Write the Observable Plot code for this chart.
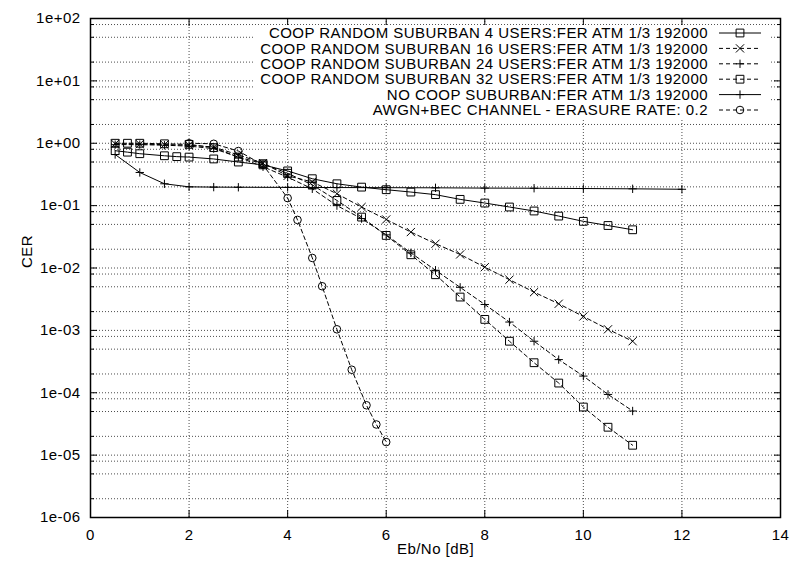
<!DOCTYPE html>
<html>
<head>
<meta charset="utf-8">
<script src="https://cdn.jsdelivr.net/npm/d3@7"></script>
<script src="https://cdn.jsdelivr.net/npm/@observablehq/plot@0.6"></script>
<style>
  html, body { margin: 0; padding: 0; background: #fff; }
  #chart { width: 790px; height: 564px; }
  svg text { font-family: "Liberation Sans", Arial, sans-serif; letter-spacing: 0.45px; }
</style>
</head>
<body>
<div id="chart"></div>
<script>
// Series labels, in key order
const seriesNames = [
  "COOP RANDOM SUBURBAN 4 USERS:FER ATM 1/3 192000",
  "COOP RANDOM SUBURBAN 16 USERS:FER ATM 1/3 192000",
  "COOP RANDOM SUBURBAN 24 USERS:FER ATM 1/3 192000",
  "COOP RANDOM SUBURBAN 32 USERS:FER ATM 1/3 192000",
  "NO COOP SUBURBAN:FER ATM 1/3 192000",
  "AWGN+BEC CHANNEL - ERASURE RATE: 0.2"
];

// Eb/No [dB] and CER for each curve
const ebno4  = [0.5, 0.75, 1, 1.5, 1.75, 2, 2.5, 3, 3.5, 4, 4.5, 5, 5.5, 6, 6.5, 7, 7.5, 8, 8.5, 9, 9.5, 10, 10.5, 11];
const cer4   = [0.76, 0.72, 0.68, 0.63, 0.61, 0.6, 0.56, 0.5, 0.45, 0.36, 0.27, 0.224, 0.198, 0.18, 0.165, 0.15, 0.126, 0.11, 0.095, 0.082, 0.068, 0.056, 0.048, 0.041];

const ebno16 = [0.5, 1, 1.5, 2, 2.5, 3, 3.5, 4, 4.5, 5, 5.5, 6, 6.5, 7, 7.5, 8, 8.5, 9, 9.5, 10, 10.5, 11];
const cer16  = [0.98, 0.97, 0.95, 0.93, 0.87, 0.65, 0.48, 0.3, 0.24, 0.155, 0.095, 0.06, 0.0377, 0.0245, 0.0165, 0.0103, 0.0065, 0.0041, 0.00267, 0.00167, 0.00104, 0.00067];

const ebno24 = [0.5, 1, 1.5, 2, 2.5, 3, 3.5, 4, 4.5, 5, 5.5, 6, 6.5, 7, 7.5, 8, 8.5, 9, 9.5, 10, 10.5, 11];
const cer24  = [0.95, 0.95, 0.93, 0.9, 0.82, 0.6, 0.42, 0.286, 0.186, 0.1, 0.062, 0.034, 0.0175, 0.0092, 0.0049, 0.0026, 0.00136, 0.00067, 0.00034, 0.000185, 0.000094, 0.000051];

const ebno32 = [0.5, 0.75, 1, 1.5, 2, 2.5, 3, 3.5, 4, 4.5, 5, 5.5, 6, 6.5, 7, 7.5, 8, 8.5, 9, 9.5, 10, 10.5, 11];
const cer32  = [1.0, 1.0, 1.0, 0.98, 0.96, 0.85, 0.6, 0.47, 0.33, 0.215, 0.121, 0.0655, 0.0333, 0.0163, 0.0078, 0.00342, 0.0015, 0.00067, 0.000303, 0.000143, 0.000059, 0.000028, 0.0000144];

const ebnoNo = [0.5, 1, 1.5, 2, 2.5, 3, 4, 5, 6, 7, 8, 9, 10, 11, 12];
const cerNo  = [0.66, 0.34, 0.224, 0.2, 0.198, 0.197, 0.196, 0.195, 0.194, 0.193, 0.191, 0.19, 0.188, 0.186, 0.183];

const ebnoAwgn = [2, 2.5, 3, 3.5, 4, 4.2, 4.5, 4.7, 5, 5.3, 5.6, 5.8, 6];
const cerAwgn  = [1.0, 0.98, 0.75, 0.45, 0.132, 0.059, 0.0145, 0.0051, 0.00104, 0.000234, 0.000063, 0.000031, 0.0000162];

// Axis ticks
const xTickValues = [0, 2, 4, 6, 8, 10, 12, 14];
const yDecades = [1e-6, 1e-5, 1e-4, 1e-3, 1e-2, 1e-1, 1e0, 1e1, 1e2];
const yGridMultiples = [1, 2, 5, 8];

// Line style per curve: dash pattern and point symbol
const styles = [
  {dash: null,  symbol: "square", r: 4.4},
  {dash: "4,3", symbol: "times",  r: 3.8},
  {dash: "4,3", symbol: "plus",   r: 2.8},
  {dash: "4,3", symbol: "square", r: 4.4},
  {dash: null,  symbol: "plus",   r: 2.8},
  {dash: "4,3", symbol: "circle", r: 3.8}
];

const xs = [ebno4, ebno16, ebno24, ebno32, ebnoNo, ebnoAwgn];
const ys = [cer4, cer16, cer24, cer32, cerNo, cerAwgn];
const curves = seriesNames.map((name, k) =>
  xs[k].map((x, i) => ({name, ebno: x, cer: ys[k][i]})));

const yGridValues = [];
for (const d of yDecades) for (const m of yGridMultiples) {
  const v = m * d;
  if (v <= 100) yGridValues.push(v);
}
const yMinor = yGridValues.filter(v => !yDecades.includes(v));

const fmtExp = v => {
  const e = Math.round(Math.log10(v));
  return "1e" + (e < 0 ? "-" : "+") + String(Math.abs(e)).padStart(2, "0");
};

const FONT = 15;
const gridStyle = {stroke: "#000", strokeOpacity: 0.7, strokeDasharray: "1,2", strokeWidth: 1};

const marks = [
  Plot.gridX({ticks: xTickValues.slice(1, -1), ...gridStyle}),
  Plot.gridY({ticks: yGridValues.filter(v => v > 1e-6 && v < 1e2), ...gridStyle}),
  // tick labels
  Plot.axisX({ticks: xTickValues, tickSize: 0, tickPadding: 12, tickFormat: d => String(d), fontSize: FONT, label: null}),
  Plot.axisY({ticks: yDecades, tickSize: 0, tickPadding: 10, tickFormat: fmtExp, fontSize: FONT, label: null}),
  // inward tick marks on all four sides
  Plot.axisX({anchor: "bottom", ticks: xTickValues, tickSize: -7, tickFormat: () => "", label: null}),
  Plot.axisX({anchor: "top", ticks: xTickValues, tickSize: -7, tickFormat: () => "", label: null}),
  Plot.axisY({anchor: "left", ticks: yDecades, tickSize: -7, tickFormat: () => "", label: null}),
  Plot.axisY({anchor: "right", ticks: yDecades, tickSize: -7, tickFormat: () => "", label: null}),
  Plot.axisY({anchor: "left", ticks: yMinor, tickSize: -4, tickFormat: () => "", label: null}),
  Plot.axisY({anchor: "right", ticks: yMinor, tickSize: -4, tickFormat: () => "", label: null}),
  // axis titles
  Plot.text(["Eb/No [dB]"], {frameAnchor: "bottom", dy: 36, text: d => d, fontSize: FONT}),
  Plot.text(["CER"], {frameAnchor: "left", dx: -63, rotate: -90, text: d => d, fontSize: FONT})
];

curves.forEach((data, k) => {
  const s = styles[k];
  marks.push(Plot.line(data, {x: "ebno", y: "cer", stroke: "#000", strokeWidth: 1,
    strokeDasharray: s.dash || undefined}));
  marks.push(Plot.dot(data, {x: "ebno", y: "cer", symbol: s.symbol, r: s.r,
    stroke: "#000", strokeWidth: 1, fill: "none"}));
});

marks.push(Plot.frame({stroke: "#000", strokeWidth: 1.5}));

const chart = Plot.plot({
  width: 790,
  height: 564,
  marginLeft: 90,
  marginRight: 10,
  marginTop: 18,
  marginBottom: 47,
  style: {fontFamily: "'Liberation Sans', Arial, sans-serif", fontSize: FONT + "px", background: "#fff", color: "#000"},
  x: {domain: [0, 14]},
  y: {type: "log", domain: [1e-6, 1e2]},
  marks
});

document.getElementById("chart").appendChild(chart);

// Key in the upper right corner, drawn over an opaque box
const xRange = chart.scale("x").range;
const yRange = chart.scale("y").range;
const frameRight = Math.max(...xRange);
const frameTop = Math.min(...yRange);
const key = d3.select(chart).append("g")
  .attr("font-family", "'Liberation Sans', Arial, sans-serif").attr("font-size", FONT);
const box = key.append("rect").attr("fill", "#fff");
const rowStep = 15.4, row0 = frameTop + 15;
const textRight = frameRight - 72, s1 = frameRight - 61, s2 = frameRight - 19;
const symbolMap = {square: d3.symbolSquare, times: d3.symbolTimes, plus: d3.symbolPlus, circle: d3.symbolCircle};
let minLeft = Infinity;
seriesNames.forEach((name, k) => {
  const y = row0 + k * rowStep;
  const t = key.append("text").attr("x", textRight).attr("y", y).attr("dy", "0.35em")
    .attr("text-anchor", "end").attr("fill", "#000").text(name);
  minLeft = Math.min(minLeft, textRight - t.node().getComputedTextLength());
  const s = styles[k];
  key.append("line").attr("x1", s1).attr("x2", s2).attr("y1", y).attr("y2", y)
    .attr("stroke", "#000").attr("stroke-width", 1)
    .attr("stroke-dasharray", s.dash);
  key.append("path").attr("transform", `translate(${(s1 + s2) / 2},${y})`)
    .attr("d", d3.symbol(symbolMap[s.symbol], Math.PI * s.r * s.r)())
    .attr("fill", "none").attr("stroke", "#000").attr("stroke-width", 1);
});
box.attr("x", minLeft - 6).attr("y", row0 - 8)
  .attr("width", s2 + 9 - (minLeft - 6))
  .attr("height", rowStep * (seriesNames.length - 1) + 17);
</script>
</body>
</html>
